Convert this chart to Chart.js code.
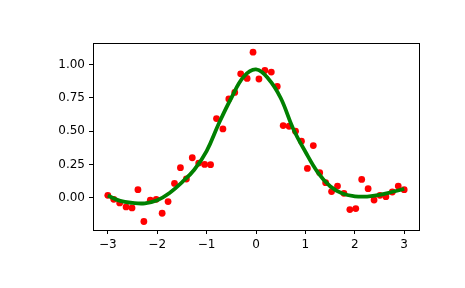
<!DOCTYPE html>
<html>
<head>
<meta charset="utf-8">
<script src="https://cdn.jsdelivr.net/npm/chart.js@4/dist/chart.umd.min.js"></script>
<style>
    html, body { margin: 0; padding: 0; background: #ffffff; }
    #wrap { width: 465px; height: 288px; }
</style>
</head>
<body>
<div id="wrap"><canvas id="chart" width="465" height="288"></canvas></div>
<script>
// noisy samples (red dots)
var sampleX = [-3.00, -2.88, -2.76, -2.63, -2.51, -2.39, -2.27, -2.14, -2.02, -1.90,
               -1.78, -1.65, -1.53, -1.41, -1.29, -1.16, -1.04, -0.92, -0.80, -0.67,
               -0.55, -0.43, -0.31, -0.18, -0.06, 0.06, 0.18, 0.31, 0.43, 0.55,
               0.67, 0.80, 0.92, 1.04, 1.16, 1.29, 1.41, 1.53, 1.65, 1.78,
               1.90, 2.02, 2.14, 2.27, 2.39, 2.51, 2.63, 2.76, 2.88, 3.00];
var sampleY = [0.017, -0.013, -0.04, -0.07, -0.078, 0.06, -0.18, -0.02, -0.013, -0.118,
               -0.03, 0.107, 0.225, 0.14, 0.30, 0.26, 0.25, 0.248, 0.595, 0.517,
               0.743, 0.792, 0.932, 0.897, 1.095, 0.893, 0.957, 0.945, 0.837, 0.542,
               0.537, 0.50, 0.425, 0.22, 0.392, 0.187, 0.112, 0.045, 0.087, 0.032,
               -0.09, -0.083, 0.137, 0.067, -0.018, 0.017, 0.007, 0.042, 0.087, 0.06];

// smoothed fit (green line)
var fitX = [-3.0, -2.75, -2.5, -2.25, -2.0, -1.75, -1.5, -1.25, -1.0, -0.75, -0.5, -0.25,
            0.0, 0.25, 0.5, 0.75, 1.0, 1.25, 1.5, 1.75, 2.0, 2.25, 2.5, 2.75, 3.0];
var fitY = [0.015, -0.025, -0.04, -0.043, -0.02, 0.035, 0.115, 0.21, 0.35, 0.56, 0.75, 0.91,
            0.965, 0.895, 0.75, 0.52, 0.345, 0.19, 0.085, 0.03, 0.01, 0.008, 0.02, 0.042, 0.065];

var xTicks = [-3, -2, -1, 0, 1, 2, 3];
var yTicks = [0, 0.25, 0.5, 0.75, 1.0];

function toPoints(xs, ys)
{
    return xs.map(function (x, i) { return { x: x, y: ys[i] }; });
}

var frame = {
    id: 'frame',
    afterDraw: function (chart)
    {
        var a = chart.chartArea;
        var ctx = chart.ctx;
        ctx.save();
        ctx.strokeStyle = '#000000';
        ctx.lineWidth = 1;
        ctx.strokeRect(Math.round(a.left) + 0.5, Math.round(a.top) + 0.5,
                       Math.round(a.right - a.left), Math.round(a.bottom - a.top));
        ctx.restore();
    }
};

var font = { family: 'DejaVu Sans', size: 12 };

new Chart(document.getElementById('chart').getContext('2d'), {
    type: 'scatter',
    data: {
        datasets: [
            {
                data: toPoints(fitX, fitY),
                showLine: true,
                borderColor: '#008000',
                borderWidth: 3.8,
                pointRadius: 0,
                tension: 0.4,
                order: 0
            },
            {
                data: toPoints(sampleX, sampleY),
                showLine: false,
                backgroundColor: '#ff0000',
                borderColor: '#ff0000',
                borderWidth: 0,
                pointRadius: 3.4,
                order: 1
            }
        ]
    },
    options: {
        responsive: false,
        animation: false,
        layout: { padding: { left: 0, right: 46, top: 43, bottom: 0 } },
        plugins: { legend: { display: false }, tooltip: { enabled: false } },
        scales: {
            x: {
                type: 'linear',
                min: -3.3,
                max: 3.3,
                afterBuildTicks: function (s) { s.ticks = xTicks.map(function (v) { return { value: v }; }); },
                afterFit: function (s) { s.height = 58; },
                border: { display: false },
                grid: { drawOnChartArea: false, drawTicks: true, tickLength: 4, color: '#000000' },
                ticks: {
                    color: '#000000',
                    font: font,
                    padding: 4,
                    maxRotation: 0,
                    callback: function (v) { return String(v).replace('-', '\u2212'); }
                }
            },
            y: {
                type: 'linear',
                min: -0.244,
                max: 1.164,
                afterBuildTicks: function (s) { s.ticks = yTicks.map(function (v) { return { value: v }; }); },
                afterFit: function (s) { s.width = 93; },
                border: { display: false },
                grid: { drawOnChartArea: false, drawTicks: true, tickLength: 4, color: '#000000' },
                ticks: {
                    color: '#000000',
                    font: font,
                    padding: 4,
                    callback: function (v) { return v.toFixed(2); }
                }
            }
        }
    },
    plugins: [frame]
});
</script>
</body>
</html>
